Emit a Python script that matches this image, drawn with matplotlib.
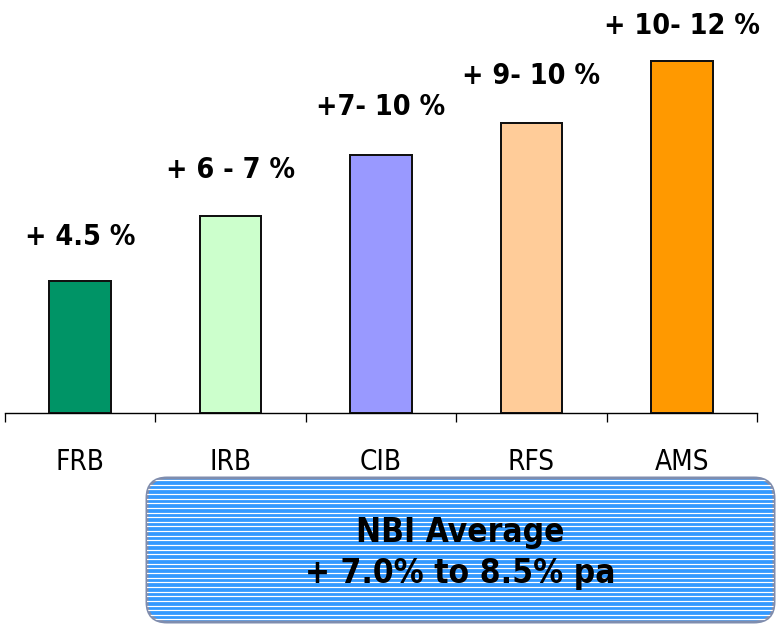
import numpy as np
import matplotlib
matplotlib.use("Agg")
import matplotlib.pyplot as plt
from matplotlib.patches import FancyBboxPatch
from matplotlib.transforms import blended_transform_factory

# business lines and their NBI growth
lines = ["FRB", "IRB", "CIB", "RFS", "AMS"]
growth = [4.5, 6.7, 8.8, 9.9, 12.0]
growth_labels = ["+ 4.5 %", "+ 6 - 7 %", "+7- 10 %", "+ 9- 10 %", "+ 10- 12 %"]
colors = ["#009466", "#CCFFCC", "#9999FF", "#FFCC99", "#FF9900"]
label_gap = [36, 38, 40, 39, 27]   # px between bar top and label baseline

summary_title = "NBI Average"
summary_text = "+ 7.0% to 8.5% pa"

W, H = 776, 624
fig = plt.figure(figsize=(W / 100, H / 100), dpi=100)
px = 0.72  # points per pixel at 100 dpi

ax = fig.add_axes([5 / W, (H - 413) / H, 752 / W, 413 / H])
x = np.arange(len(lines))
ax.bar(x, growth, width=0.41, color=colors, edgecolor="#111111", linewidth=2.0 * px, zorder=3)
ax.set_xlim(-0.5, len(lines) - 0.5)
ax.set_ylim(0, 413 / 29.33)

for s in ["left", "right", "top"]:
    ax.spines[s].set_visible(False)
ax.spines["bottom"].set_linewidth(1.4 * px)
ax.set_yticks([])
ax.set_xticks(np.arange(-0.5, len(lines), 1.0))
ax.tick_params(axis="x", direction="out", length=9 * px, width=1.3 * px, labelbottom=False)

bold = dict(family="DejaVu Sans", fontstretch="condensed", fontweight="bold")
reg = dict(family="DejaVu Sans", fontstretch="condensed")

for i, (v, lab) in enumerate(zip(growth, growth_labels)):
    ax.annotate(lab, xy=(i, v), xytext=(0, label_gap[i]), textcoords="offset pixels",
                ha="center", va="baseline", fontsize=20.5, **bold)

trans = blended_transform_factory(ax.transData, ax.transAxes)
for i, name in enumerate(lines):
    ax.annotate(name, xy=(i, 0), xycoords=trans, xytext=(0, -57), textcoords="offset pixels",
                ha="center", va="baseline", fontsize=20, **reg)

# summary box with striped fill
ov = fig.add_axes([0, 0, 1, 1], zorder=5)
ov.set_xlim(0, W)
ov.set_ylim(H, 0)
ov.axis("off")
box = FancyBboxPatch((147, 478), 627, 144, boxstyle="round,pad=0,rounding_size=20",
                     facecolor="#3399FF", edgecolor="#7F8DAE", linewidth=3.0 * px)
ov.add_patch(box)
for yy in np.arange(480, 623, 4.65):
    ln, = ov.plot([147, 775], [yy, yy], color="white", linewidth=1.2 * px)
    ln.set_clip_path(box)
ov.text(460, 542, summary_title, ha="center", va="baseline", fontsize=24, **bold)
ov.text(460, 583, summary_text, ha="center", va="baseline", fontsize=24, **bold)

fig.savefig("out.png", dpi=100)
